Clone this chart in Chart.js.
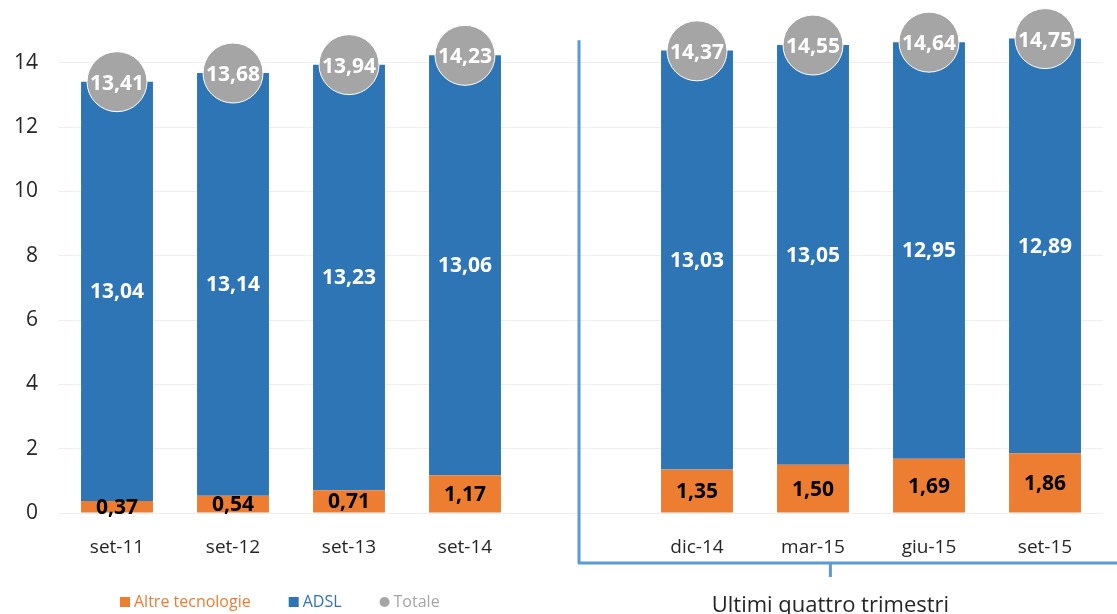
<!DOCTYPE html>
<html>
<head>
<meta charset="utf-8">
<script src="https://cdn.jsdelivr.net/npm/chart.js@4"></script>
<style>
  html, body { margin: 0; padding: 0; background: #fff; }
  #wrap { width: 1117px; height: 614px; position: relative; }
</style>
</head>
<body>
<div id="wrap"><canvas id="chart"></canvas></div>
<script>
// categorie (la colonna vuota separa gli ultimi quattro trimestri)
const categories = ['set-11', 'set-12', 'set-13', 'set-14', '', 'dic-14', 'mar-15', 'giu-15', 'set-15'];
const altre = [0.37, 0.54, 0.71, 1.17, null, 1.35, 1.50, 1.69, 1.86];
const adsl = [13.04, 13.14, 13.23, 13.06, null, 13.03, 13.05, 12.95, 12.89];
const totale = [13.41, 13.68, 13.94, 14.23, null, 14.37, 14.55, 14.64, 14.75];
const yTicks = [0, 2, 4, 6, 8, 10, 12, 14];

const FONT = '"Open Sans", "DejaVu Sans", sans-serif';

function fmt(v) {
    return v.toFixed(2).replace('.', ',');
}

// etichette dentro le barre e nei cerchi
const labelsPlugin = {
    id: 'labels',
    afterDatasetsDraw(chart) {
        const ctx = chart.ctx;
        ctx.save();
        ctx.textAlign = 'center';
        ctx.textBaseline = 'middle';
        ctx.font = 'bold 21px ' + FONT;
        chart.data.datasets.forEach((ds, i) => {
            const meta = chart.getDatasetMeta(i);
            meta.data.forEach((el, j) => {
                const v = ds.data[j];
                if (v == null) return;
                let y;
                if (ds.type === 'line') {
                    ctx.fillStyle = '#ffffff';
                    y = el.y + 1;
                } else {
                    ctx.fillStyle = ds.labelColor;
                    y = (el.y + el.base) / 2;
                }
                ctx.fillText(fmt(v), el.x, y + 1);
            });
        });
        ctx.restore();
    }
};

// parentesi "Ultimi quattro trimestri" e legenda
const extrasPlugin = {
    id: 'extras',
    afterDraw(chart) {
        const ctx = chart.ctx;
        const xs = chart.scales.x;
        const ys = chart.scales.y;
        const xl = xs.getPixelForValue(4) - 2;
        const yTop = ys.getPixelForValue(14.7);
        const yBot = 563;
        const xMid = xs.getPixelForValue(6.15);
        ctx.save();
        ctx.strokeStyle = '#5B9BD5';
        ctx.lineWidth = 3;
        ctx.lineJoin = 'round';
        ctx.beginPath();
        ctx.moveTo(xl, yTop);
        ctx.lineTo(xl, yBot);
        ctx.lineTo(chart.width + 5, yBot);
        ctx.moveTo(xMid, yBot);
        ctx.lineTo(xMid, yBot + 14);
        ctx.stroke();

        ctx.fillStyle = '#262626';
        ctx.font = '22px ' + FONT;
        ctx.textAlign = 'center';
        ctx.textBaseline = 'alphabetic';
        ctx.fillText('Ultimi quattro trimestri', xMid, 612);

        // legenda
        const items = [
            { text: 'Altre tecnologie', color: '#ED7D31', shape: 'rect' },
            { text: 'ADSL', color: '#2E75B6', shape: 'rect' },
            { text: 'Totale', color: '#A5A5A5', shape: 'circle' }
        ];
        ctx.font = '16px ' + FONT;
        ctx.textAlign = 'left';
        ctx.textBaseline = 'middle';
        let x = 120;
        const y = 602;
        items.forEach(it => {
            ctx.fillStyle = it.color;
            if (it.shape === 'rect') {
                ctx.fillRect(x, y - 5, 10, 10);
            } else {
                ctx.beginPath();
                ctx.arc(x + 5, y, 5, 0, Math.PI * 2);
                ctx.fill();
            }
            ctx.fillText(it.text, x + 14, y);
            x += 14 + ctx.measureText(it.text).width + 38;
        });
        ctx.restore();
    }
};

const ctx = document.getElementById('chart').getContext('2d');
new Chart(ctx, {
    type: 'bar',
    data: {
        labels: categories,
        datasets: [
            {
                type: 'line',
                label: 'Totale',
                data: totale,
                stack: 'tot',
                showLine: false,
                clip: false,
                pointRadius: 30,
                pointHoverRadius: 30,
                pointBackgroundColor: '#A5A5A5',
                pointBorderColor: '#ffffff',
                pointBorderWidth: 1,
                order: 0
            },
            {
                label: 'Altre tecnologie',
                data: altre,
                backgroundColor: '#ED7D31',
                labelColor: '#000000',
                stack: 'a',
                order: 1
            },
            {
                label: 'ADSL',
                data: adsl,
                backgroundColor: '#2E75B6',
                labelColor: '#ffffff',
                stack: 'a',
                order: 1
            }
        ]
    },
    options: {
        responsive: true,
        maintainAspectRatio: false,
        animation: false,
        layout: { padding: { top: 0, left: 0, bottom: 0, right: 14 }, autoPadding: false },
        datasets: {
            bar: { categoryPercentage: 1, barPercentage: 0.62 }
        },
        plugins: {
            legend: { display: false },
            tooltip: { enabled: false }
        },
        scales: {
            x: {
                stacked: true,
                grid: { display: false },
                border: { display: false },
                ticks: {
                    color: '#262626',
                    font: { family: FONT, size: 19 },
                    padding: 15
                },
                afterFit(scale) {
                    scale.height = 101;
                    scale.paddingLeft = 0;
                    scale.paddingRight = 0;
                }
            },
            y: {
                stacked: true,
                min: 0,
                max: 15.95,
                afterBuildTicks(scale) {
                    scale.ticks = yTicks.map(v => ({ value: v }));
                },
                grid: { color: '#efefef', lineWidth: 1, drawTicks: false },
                border: { display: false },
                ticks: {
                    color: '#262626',
                    font: { family: FONT, size: 21 },
                    padding: 21
                },
                afterFit(scale) {
                    scale.width = 59;
                    scale.paddingTop = 0;
                    scale.paddingBottom = 0;
                }
            }
        }
    },
    plugins: [labelsPlugin, extrasPlugin]
});
</script>
</body>
</html>
